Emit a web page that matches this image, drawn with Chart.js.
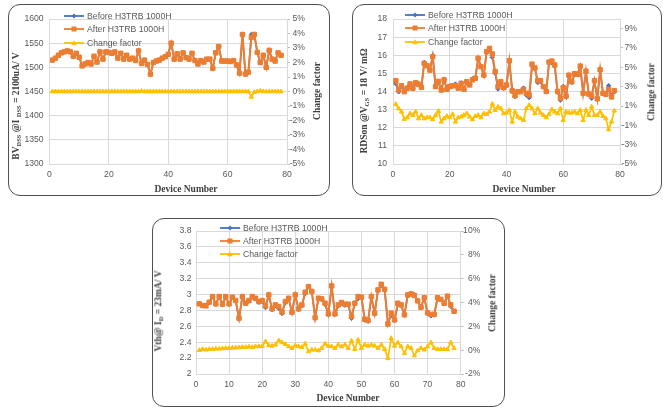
<!DOCTYPE html>
<html><head><meta charset="utf-8">
<script src="https://cdn.jsdelivr.net/npm/chart.js@4.4.1/dist/chart.umd.min.js"></script>
<style>
html,body{margin:0;padding:0;background:#fff;width:671px;height:416px;overflow:hidden;position:relative;font-family:"Liberation Sans",Arial,sans-serif}
.panel{position:absolute;border:1.5px solid #505050;border-radius:12px;box-sizing:border-box;background:#fff}
canvas{position:absolute}
.t{position:absolute;font-family:"Liberation Serif","Times New Roman",serif;font-weight:bold;font-size:9.5px;color:#404040;white-space:nowrap;transform:translate(-50%,-50%);line-height:1}
.t.rot{transform:translate(-50%,-50%) rotate(-90deg)}
.t sub{font-size:6.5px;vertical-align:-2px;line-height:0}
.leg{position:absolute;font-size:8.7px;color:#595959;white-space:nowrap;line-height:1}
.leg svg{position:absolute}
.leg span{position:absolute;transform:translateY(-50%)}
</style>
</head><body>
<div class="panel" style="left:8px;top:4px;width:322px;height:192px"></div>
<div class="panel" style="left:352px;top:4px;width:310px;height:192px"></div>
<div class="panel" style="left:152px;top:218px;width:353px;height:189px"></div>
<canvas id="c1" width="322" height="192" style="left:8px;top:4px"></canvas>
<canvas id="c2" width="310" height="192" style="left:352px;top:4px"></canvas>
<canvas id="c3" width="353" height="189" style="left:152px;top:218px"></canvas>

<div class="t rot" style="left:17px;top:106px">BV<sub>DSS</sub> @I <sub>DSS</sub> = 2100uA/ V</div>
<div class="t rot" style="left:318px;top:91px">Change factor</div>
<div class="t" style="left:186px;top:190px">Device Number</div>

<div class="t rot" style="left:365px;top:101px">RDSon @V<sub>GS</sub> = 18 V/ mΩ</div>
<div class="t rot" style="left:652px;top:92px">Change factor</div>
<div class="t" style="left:524px;top:190px">Device Number</div>

<div class="t rot" style="left:159px;top:311px">Vth@ I<sub>D</sub> = 23mA/ V</div>
<div class="t rot" style="left:493px;top:303px">Change factor</div>
<div class="t" style="left:348px;top:399px">Device Number</div>

<div id="legs"></div>
<script>
const devices = [1,2,3,4,5,6,7,8,9,10,11,12,13,14,15,16,17,18,19,20,21,22,23,24,25,26,27,28,29,30,31,32,33,34,35,36,37,38,39,40,41,42,43,44,45,46,47,48,49,50,51,52,53,54,55,56,57,58,59,60,61,62,63,64,65,66,67,68,69,70,71,72,73,74,75,76,77,78];
const seriesNames = ["Before H3TRB 1000H","After H3TRB 1000H","Change factor"];

// Chart 1: BVDSS
const bvBefore = [1515,1519,1525,1530,1532,1534,1532,1523,1529,1521,1503,1507,1510,1507,1523,1511,1532,1517,1532,1531,1529,1532,1519,1529,1517,1525,1517,1519,1514,1534,1508,1515,1506,1486,1510,1513,1515,1519,1522,1527,1550,1517,1528,1517,1530,1520,1517,1529,1514,1507,1514,1511,1517,1517,1498,1530,1543,1513,1513,1513,1512,1514,1505,1488,1568,1486,1490,1568,1568,1531,1510,1525,1500,1535,1517,1513,1530,1525];
const bvAfter  = [1515,1519,1525,1530,1532,1534,1532,1523,1529,1521,1503,1507,1510,1507,1523,1511,1532,1517,1532,1531,1529,1532,1519,1529,1517,1525,1517,1519,1514,1534,1508,1515,1506,1486,1510,1513,1515,1519,1522,1527,1550,1517,1528,1517,1530,1520,1517,1529,1514,1507,1514,1511,1517,1517,1498,1530,1543,1513,1513,1513,1512,1514,1505,1488,1568,1486,1490,1562,1568,1531,1510,1525,1500,1535,1517,1513,1530,1525];
const bvChange = [0,0,0,0,0,0,0,0,0,0,0,0,0,0,0,0,0,0,0,0,0,0,0,0,0,0,0,0,0,0,0.04,0,0,0,0,0,0,0,0,0,0,0,0,0,0,0,0,0,0,0,0,0,0,0,0,0,0,0,0,0,0,0,0,0,0,0,0,-0.38,-0.04,0,0.05,0,0,0,0,0,0,0];

// Chart 2: RDSon
const rdsBefore = [14.43,13.98,14.26,14.04,14.21,14.39,14.17,14.43,14.44,14.22,15.60,15.45,15.21,15.98,14.26,14.49,14.17,14.68,14.13,14.30,14.30,14.41,14.21,14.47,14.11,14.51,14.38,14.70,14.74,15.82,15.40,14.88,16.18,16.31,15.88,15.01,14.14,14.43,14.18,14.32,15.61,14.12,13.72,14.01,14.03,14.19,13.80,13.66,15.40,15.27,14.49,14.56,14.26,14.03,15.60,15.58,15.40,13.97,13.53,14.28,13.70,14.86,14.50,14.92,14.92,15.31,13.97,15.03,13.85,13.63,14.59,13.59,15.14,13.91,13.89,14.32,13.79,13.98];
const rdsAfter  = [14.60,14.08,14.32,13.99,14.18,14.42,14.18,14.49,14.40,14.23,15.55,15.42,15.18,15.92,14.27,14.56,14.08,14.64,14.12,14.27,14.32,14.32,14.18,14.45,14.12,14.54,14.36,14.64,14.73,15.83,15.37,14.91,16.20,16.38,16.07,15.10,14.27,14.54,14.21,14.36,15.70,14.03,13.77,13.99,13.99,14.12,13.90,13.81,15.51,15.30,14.60,14.60,14.27,14.00,15.62,15.68,15.46,14.00,13.63,14.21,13.75,14.90,14.54,14.98,14.95,15.40,13.90,15.12,13.86,13.75,14.60,13.60,15.20,13.90,13.85,14.12,13.70,14.05];
const rdsChange = [1.19,0.74,0.40,-0.36,-0.19,0.22,0.05,0.40,-0.30,0.05,-0.30,-0.19,-0.19,-0.40,0.05,0.47,-0.64,-0.30,-0.05,-0.19,0.15,-0.64,-0.19,-0.12,0.05,0.22,-0.12,-0.40,-0.05,0.05,-0.19,0.22,0.15,0.40,1.20,0.57,0.91,0.74,0.22,0.29,0.57,-0.64,0.40,-0.12,-0.30,-0.47,0.74,1.08,0.74,0.22,0.74,0.29,0.05,-0.19,0.15,0.64,0.40,0.22,0.74,-0.47,0.40,0.29,0.29,0.40,0.22,0.57,-0.47,0.57,0.05,0.91,0.05,0.05,0.40,-0.05,-0.30,-1.43,-0.64,0.50];
const rdsPctTicks = [-5,-3,-1,1,3,5,7,9];

// Chart 3: Vth
const vthBefore = [2.883,2.860,2.857,2.902,2.973,2.880,2.972,2.875,2.970,2.878,2.961,2.919,2.697,2.968,2.884,2.917,2.968,2.945,2.903,2.915,2.837,2.984,2.810,2.857,2.827,2.762,2.897,2.945,2.773,2.984,2.811,2.863,3.014,3.103,3.039,2.709,2.955,2.941,2.876,2.747,3.099,2.752,2.857,2.891,2.866,2.874,2.703,2.889,2.950,2.962,2.678,2.664,2.962,2.756,3.054,3.116,3.065,2.648,2.738,2.672,2.873,2.861,2.752,2.987,3.004,3.001,2.921,2.835,2.959,2.761,2.732,2.745,2.958,2.938,2.888,2.978,2.852,2.785];
const vthAfter  = [2.883,2.862,2.858,2.904,2.975,2.883,2.975,2.879,2.975,2.883,2.967,2.925,2.703,2.975,2.891,2.925,2.975,2.954,2.912,2.925,2.858,2.996,2.820,2.870,2.850,2.780,2.912,2.954,2.778,2.996,2.820,2.870,3.030,3.100,3.040,2.710,2.954,2.946,2.891,2.757,3.109,2.757,2.870,2.900,2.879,2.879,2.724,2.891,2.975,2.967,2.690,2.674,2.975,2.766,3.059,3.130,3.067,2.630,2.766,2.682,2.891,2.870,2.745,2.996,3.009,2.988,2.920,2.840,2.960,2.770,2.750,2.750,2.960,2.940,2.890,2.980,2.870,2.790];
const vthChange = [0.00,0.08,0.03,0.08,0.08,0.11,0.11,0.14,0.17,0.17,0.20,0.20,0.22,0.25,0.25,0.28,0.25,0.31,0.31,0.33,0.73,0.39,0.36,0.45,0.81,0.64,0.50,0.31,0.17,0.39,0.31,0.25,0.53,-0.11,0.03,0.03,-0.03,0.17,0.53,0.36,0.31,0.17,0.45,0.31,0.45,0.17,0.78,0.08,0.86,0.17,0.45,0.36,0.45,0.36,0.17,0.45,0.08,-0.67,1.00,0.36,0.64,0.31,-0.25,0.31,0.17,-0.45,-0.03,0.17,0.03,0.31,0.64,0.17,0.08,0.08,0.08,0.08,0.64,0.17];

const BLUE='#4472C4', ORANGE='#ED7D31', YELLOW='#FFC000';
const GRID='#d9d9d9', TICKC='#595959';
const tickFont={family:'"Liberation Sans", Arial, sans-serif',size:8.6};

function pts(arr){return devices.map((d,i)=>({x:d,y:arr[i]}));}

function makeChart(id, o){
  const ds=[
    {label:seriesNames[0],data:pts(o.before),yAxisID:'y',borderColor:BLUE,backgroundColor:BLUE,borderWidth:1.6,pointStyle:'rectRot',pointRadius:2.2,pointBorderWidth:1,order:3},
    {label:seriesNames[1],data:pts(o.after),yAxisID:'y',borderColor:ORANGE,backgroundColor:ORANGE,borderWidth:2,pointStyle:'rect',pointRadius:3.1,pointBorderWidth:1,order:2},
    {label:seriesNames[2],data:pts(o.change),yAxisID:'y1',borderColor:YELLOW,backgroundColor:YELLOW,borderWidth:1.7,pointStyle:'triangle',pointRadius:2.5,pointBorderWidth:1,order:1}
  ];
  return new Chart(document.getElementById(id),{
    type:'line',
    data:{datasets:ds},
    options:{
      responsive:false,animation:false,devicePixelRatio:1,
      layout:{padding:{top:o.padTop,left:0,right:o.padRight,bottom:0}},
      elements:{line:{tension:0}},
      plugins:{legend:{display:false},tooltip:{enabled:false}},
      scales:{
        x:{type:'linear',min:0,max:80,
          ticks:{stepSize:o.xStep,font:tickFont,color:TICKC,padding:5,maxRotation:0},
          grid:{color:GRID,drawTicks:false},border:{color:GRID},
          afterFit:s=>{s.height=o.xH;}},
        y:{position:'left',min:o.yMin,max:o.yMax,
          ticks:{stepSize:o.yStep,font:tickFont,color:TICKC,padding:o.yPad,callback:v=>String(+(+v).toFixed(2))},
          grid:{color:GRID,drawTicks:false},border:{color:GRID},
          afterFit:s=>{s.width=o.yW;}},
        y1:{position:'right',min:o.pMin,max:o.pMax,
          ticks:{stepSize:o.pStep,font:tickFont,color:TICKC,padding:1,crossAlign:'far',callback:v=>Math.round(v)+'%'},
          grid:{drawOnChartArea:false,drawTicks:true,tickLength:3,color:'#bfbfbf'},border:{color:GRID},
          afterBuildTicks:o.pTicks?(s=>{s.ticks=o.pTicks.map(v=>({value:v}));}):undefined,
          afterFit:s=>{s.width=o.y1W;}}
      }
    }
  });
}

makeChart('c1',{before:bvBefore,after:bvAfter,change:bvChange,padTop:15,padRight:25,xStep:20,xH:32,yMin:1300,yMax:1600,yStep:50,yW:41.5,yPad:6,pMin:-5,pMax:5,pStep:1,y1W:18});
makeChart('c2',{before:rdsBefore,after:rdsAfter,change:rdsChange,padTop:15,padRight:25,xStep:20,xH:32,yMin:10,yMax:18,yStep:1,yW:41,yPad:6,pMin:-5,pMax:10,pStep:2,pTicks:rdsPctTicks,y1W:17});
makeChart('c3',{before:vthBefore,after:vthAfter,change:vthChange,padTop:13,padRight:24.7,xStep:10,xH:33,yMin:2,yMax:3.8,yStep:0.2,yW:44,yPad:4.5,pMin:-2,pMax:10,pStep:2,y1W:19.6});

// Legends (HTML)
function icon(kind,color){
  let m='';
  if(kind===0) m=`<polygon points="10,1.5 12.5,4 10,6.5 7.5,4" fill="${color}"/>`;
  if(kind===1) m=`<rect x="7.5" y="1.5" width="5" height="5" fill="${color}"/>`;
  if(kind===2) m=`<polygon points="10,1.2 12.8,6.2 7.2,6.2" fill="${color}"/>`;
  return `<svg width="20" height="8" viewBox="0 0 20 8" style="left:0;top:-4px"><line x1="0" y1="4" x2="20" y2="4" stroke="${color}" stroke-width="1.8"/>${m}</svg>`;
}
const legs=[
  {x:64,tx:87,ys:[15.7,29.3,42.7]},
  {x:405,tx:428,ys:[15,28.3,41.7]},
  {x:220,tx:243,ys:[228.3,240.7,254]}
];
const cols=[BLUE,ORANGE,YELLOW];
let html='';
legs.forEach(L=>{
  seriesNames.forEach((n,k)=>{
    html+=`<div class="leg" style="left:${L.x}px;top:${L.ys[k]}px">${icon(k,cols[k])}<span style="left:${L.tx-L.x}px;top:0">${n}</span></div>`;
  });
});
document.getElementById('legs').innerHTML=html;
</script>
</body></html>
